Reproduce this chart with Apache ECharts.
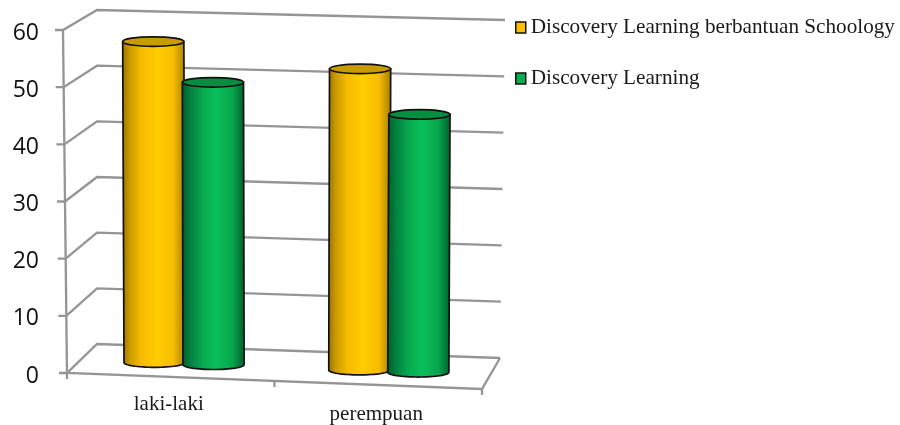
<!DOCTYPE html>
<html>
<head>
<meta charset="utf-8">
<style>html,body{margin:0;padding:0;background:#fff}#chart{width:900px;height:425px}</style>
<script src="https://cdn.jsdelivr.net/npm/echarts@6/dist/echarts.min.js"></script>
</head>
<body>
<div id="chart"></div>
<script>
const categories = ['laki-laki', 'perempuan'];
const seriesNames = ['Discovery Learning berbantuan Schoology', 'Discovery Learning'];
const schoologyValues = [56.7, 52.9];
const plainValues = [49.8, 45.2];
const yTicks = [0, 10, 20, 30, 40, 50, 60];
const yMax = 60;

// Pixel shift of each box corner away from the flat grid rectangle: [front, back], each [bottom, top], each [left, right]
const cornerShift = [
  [[[2, 0], [2, 16]], [[-2, 0], [2, 12]]],
  [[[32, -29], [20, -15]], [[32, -20], [25, -10]]]
];
const lerp = (a, b, k) => a + (b - a) * k;

// Project axis position (u on the 0..2 category span, v on the value axis, depth d) to the canvas
function project(api, u, v, d) {
  const p = api.coord([u, v]);
  const s = u / categories.length, t = v / yMax;
  const shift = [0, 1].map(i => {
    const at = depth => lerp(
      lerp(cornerShift[depth][0][0][i], cornerShift[depth][0][1][i], s),
      lerp(cornerShift[depth][1][0][i], cornerShift[depth][1][1][i], s), t);
    return lerp(at(0), at(1), d);
  });
  return [p[0] + shift[0], p[1] + shift[1]];
}

const frameStyle = { stroke: '#959595', lineWidth: 2.3, fill: 'none' };
const polyline = pts => ({ type: 'polyline', shape: { points: pts }, style: frameStyle, silent: true });

// Walls: left-wall line, back-wall line and the outer tick for one axis value
function renderWallLine(params, api) {
  const v = api.value(1);
  const front = project(api, 0, v, 0);
  return {
    type: 'group',
    children: [
      polyline([[front[0] - 8, front[1]], front, project(api, 0, v, 1), project(api, categories.length, v, 1)])
    ]
  };
}

// Floor outline, left upright and the three category ticks
function renderFloor(params, api) {
  const n = categories.length;
  const children = [
    polyline([project(api, 0, yMax, 0), project(api, 0, 0, 0), project(api, n, 0, 0), project(api, n, 0, 1)])
  ];
  for (let u = 0; u <= n; u++) {
    const p = project(api, u, 0, 0);
    children.push(polyline([p, [p[0], p[1] + 6]]));
  }
  return { type: 'group', children };
}

const barDepth = 0.455;
const barHalf = 0.144;

function cylinderRenderer(side, palette) {
  return function (params, api) {
    const u = api.value(0) + 0.5 + side * barHalf + 0.005;
    const base = project(api, u, 0, barDepth);
    const top = project(api, u, api.value(1), barDepth);
    const rx = api.coord([barHalf, 0])[0] - api.coord([0, 0])[0] + 0.7;
    const ry = 4.8;
    const pts = [[top[0] - rx, top[1]], [top[0] + rx, top[1]]];
    for (let i = 0; i <= 32; i++) {
      const a = Math.PI * i / 32;
      pts.push([base[0] + rx * Math.cos(a), base[1] + ry * Math.sin(a)]);
    }
    return {
      type: 'group',
      children: [
        {
          type: 'polygon',
          shape: { points: pts },
          style: {
            stroke: '#111', lineWidth: 1.7,
            fill: new echarts.graphic.LinearGradient(0, 0, 1, 0, palette.body)
          }
        },
        {
          type: 'ellipse',
          shape: { cx: top[0], cy: top[1], rx: rx, ry: ry },
          style: { fill: palette.lid, stroke: '#111', lineWidth: 1.7 }
        }
      ]
    };
  };
}

const yellow = {
  lid: '#c89b00',
  body: [
    { offset: 0, color: '#946f00' }, { offset: 0.12, color: '#c99a00' },
    { offset: 0.3, color: '#f5bb00' }, { offset: 0.55, color: '#ffcc00' },
    { offset: 0.8, color: '#f7bd00' }, { offset: 1, color: '#a37c00' }
  ]
};
const green = {
  lid: '#078c40',
  body: [
    { offset: 0, color: '#005c2a' }, { offset: 0.14, color: '#038040' },
    { offset: 0.35, color: '#07ab50' }, { offset: 0.55, color: '#0abf5a' },
    { offset: 0.8, color: '#07a64d' }, { offset: 1, color: '#005c2a' }
  ]
};

const chart = echarts.init(document.getElementById('chart'), null, { renderer: 'canvas' });
chart.setOption({
  animation: false,
  backgroundColor: '#fff',
  grid: { left: 65, top: 30, width: 415, height: 343, containLabel: false },
  legend: {
    orient: 'vertical', left: 510, top: 12,
    itemWidth: 10, itemHeight: 11, itemGap: 30,
    icon: 'rect',
    selectedMode: false,
    data: seriesNames,
    itemStyle: { borderColor: '#111', borderWidth: 1.5 },
    textStyle: { fontFamily: '"Liberation Serif"', fontSize: 21.2, color: '#1a1a1a' }
  },
  xAxis: [
    {
      type: 'category', data: categories, position: 'bottom',
      axisLine: { show: false }, axisTick: { show: false }, splitLine: { show: false },
      axisLabel: {
        margin: 21,
        formatter: (name, i) => i === 0 ? '{near|' + name + '}' : '{far|' + name + '}',
        rich: {
          near: { fontFamily: '"Liberation Serif"', fontSize: 21, color: '#1a1a1a' },
          far: { fontFamily: '"Liberation Serif"', fontSize: 21, color: '#1a1a1a', padding: [10, 0, 0, 0] }
        }
      }
    },
    { type: 'value', min: 0, max: categories.length, show: false }
  ],
  yAxis: {
    type: 'value', min: 0, max: yMax, interval: 10,
    axisLine: { show: false }, axisTick: { show: false }, splitLine: { show: false },
    axisLabel: { margin: 26, verticalAlign: 'top', lineHeight: 6, fontFamily: '"Open Sans"', fontSize: 23, color: '#111' }
  },
  series: [
    {
      type: 'custom', xAxisIndex: 1, z: 1, silent: true,
      data: yTicks.map(v => [0, v]),
      renderItem: renderWallLine
    },
    {
      type: 'custom', xAxisIndex: 1, z: 1, silent: true,
      data: [[0, 0]],
      renderItem: renderFloor
    },
    {
      name: seriesNames[0], type: 'custom', xAxisIndex: 1, z: 2, silent: true,
      itemStyle: { color: '#FFC000' },
      data: schoologyValues.map((v, i) => [i, v]),
      renderItem: cylinderRenderer(-1, yellow)
    },
    {
      name: seriesNames[1], type: 'custom', xAxisIndex: 1, z: 3, silent: true,
      itemStyle: { color: '#00B050' },
      data: plainValues.map((v, i) => [i, v]),
      renderItem: cylinderRenderer(1, green)
    }
  ]
});
</script>
</body>
</html>
